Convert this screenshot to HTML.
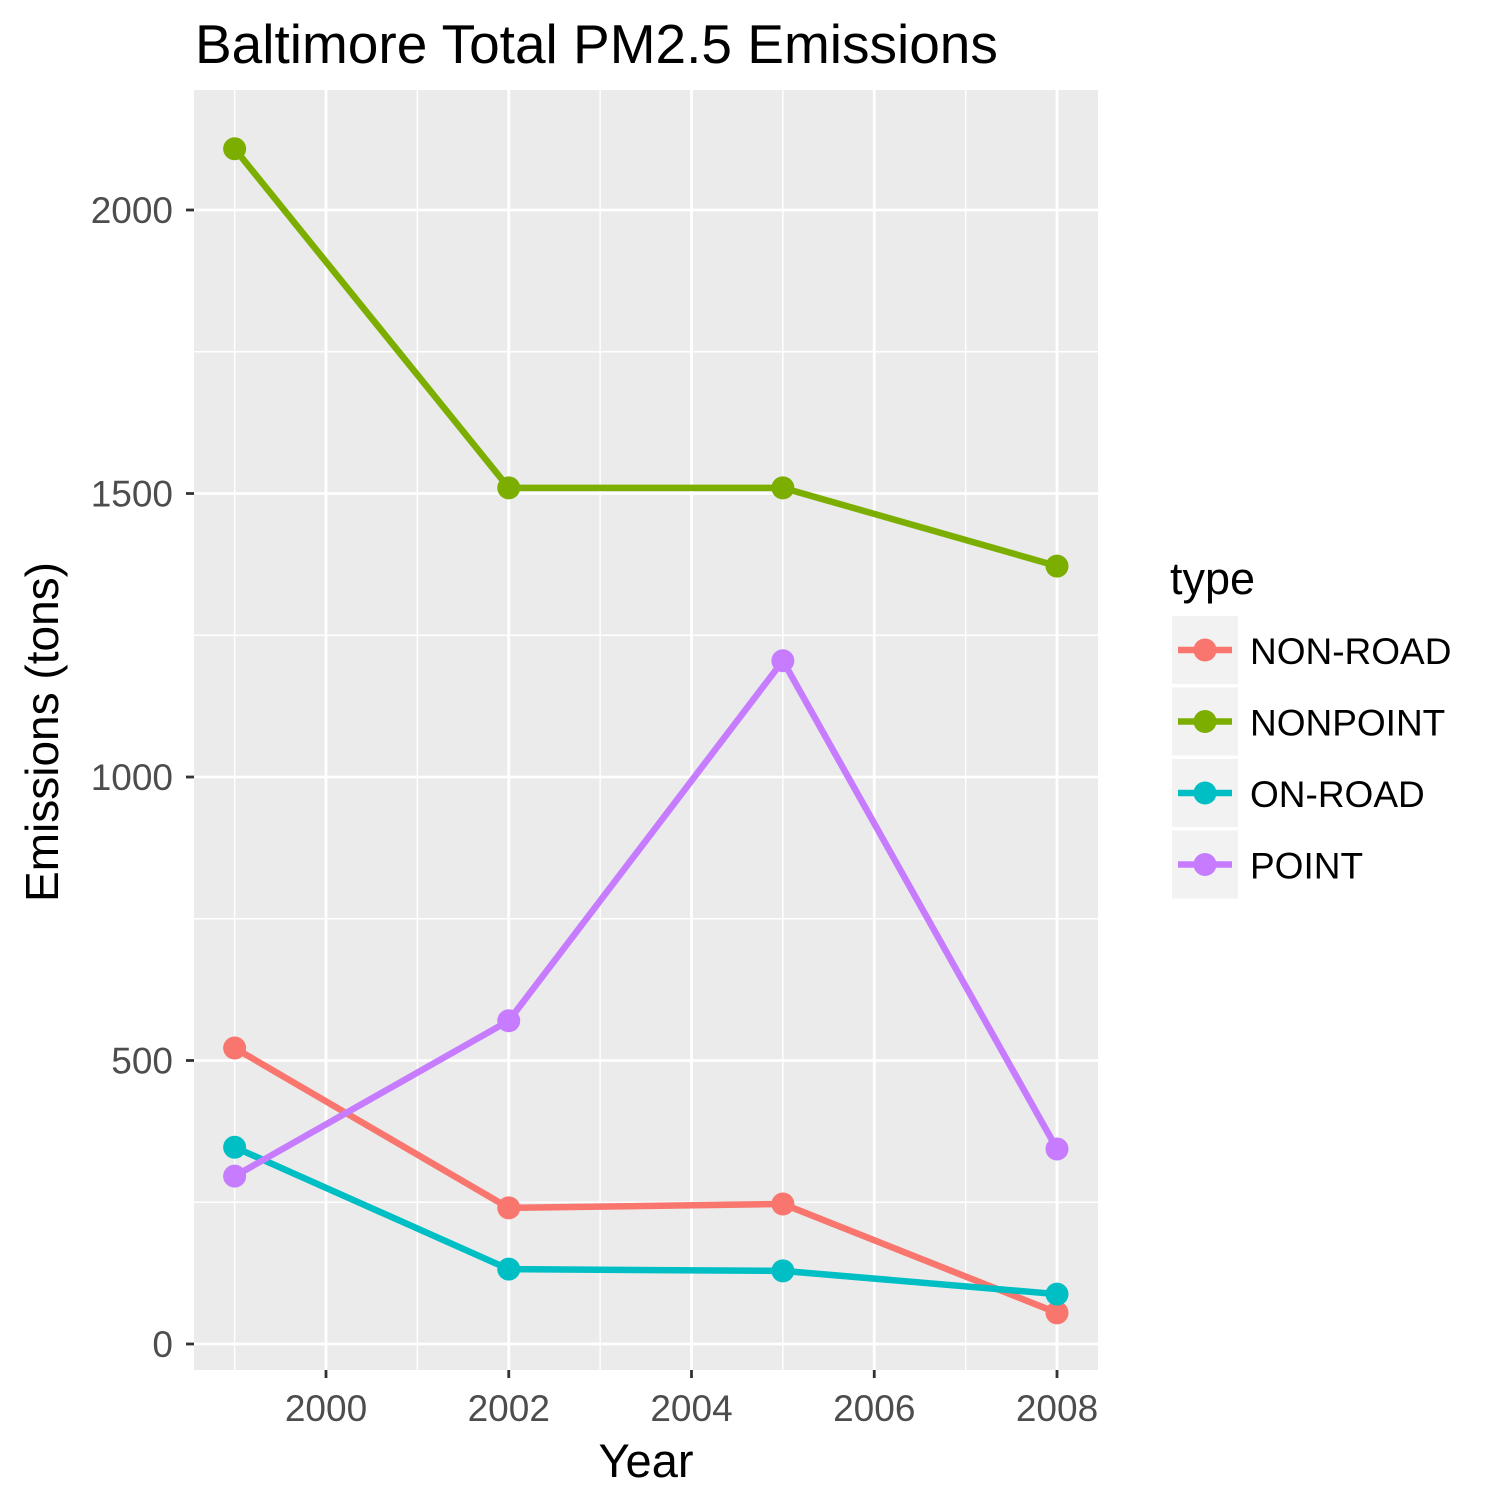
<!DOCTYPE html>
<html><head><meta charset="utf-8"><style>
html,body{margin:0;padding:0;background:#fff;}
svg text{font-family:"Liberation Sans",Arial,sans-serif;}
</style></head><body>
<svg id="chart" width="1500" height="1500" viewBox="0 0 1500 1500" xmlns="http://www.w3.org/2000/svg">
<rect x="0" y="0" width="1500" height="1500" fill="#fff"/>
<text x="195" y="63" font-size="55" fill="#000">Baltimore Total PM2.5 Emissions</text>
<rect x="194" y="90" width="904" height="1280" fill="#ebebeb"/>
<g id="grid"></g>
<g id="series"></g>
<g id="axes"></g>
<text x="646" y="1477" font-size="47" text-anchor="middle" fill="#000">Year</text>
<text transform="translate(58,732) rotate(-90)" font-size="46" text-anchor="middle" fill="#000">Emissions (tons)</text>
<text x="1170" y="594" font-size="45" fill="#000">type</text>
<g id="legend"></g>
</svg>
<script>
const years = [1999, 2002, 2005, 2008];
const seriesNames = ["NON-ROAD", "NONPOINT", "ON-ROAD", "POINT"];
const nonRoad = [522, 240, 247, 55];
const nonPoint = [2108, 1510, 1510, 1372];
const onRoad = [347, 132, 129, 88];
const pointVals = [296, 570, 1205, 344];
const colors = ["#F8766D", "#7CAE00", "#00BFC4", "#C77CFF"];
const yTicks = [0, 500, 1000, 1500, 2000];
const yMinor = [250, 750, 1250, 1750];
const xTicks = [2000, 2002, 2004, 2006, 2008];
const xMinor = [1999, 2001, 2003, 2005, 2007];

const NS = "http://www.w3.org/2000/svg";
const xs = v => 326 + (v - 2000) * 91.375;
const ys = v => 1344 - v * 0.567;
function mk(tag, attrs, parent) {
  const e = document.createElementNS(NS, tag);
  for (const k in attrs) e.setAttribute(k, attrs[k]);
  parent.appendChild(e);
  return e;
}
const grid = document.getElementById('grid');
const axes = document.getElementById('axes');
yMinor.forEach(v => {
  const l = mk('line', {x1:194, x2:1098, y1:ys(v), y2:ys(v), stroke:'#fff', 'stroke-width':1.4}, grid);
  
  
});
xMinor.forEach(v => {
  const l = mk('line', {x1:xs(v), x2:xs(v), y1:90, y2:1370, stroke:'#fff', 'stroke-width':1.4}, grid);
  
  
});
yTicks.forEach(v => {
  const l = mk('line', {x1:194, x2:1098, y1:ys(v), y2:ys(v), stroke:'#fff', 'stroke-width':2.8}, grid);
  
  
  const t = mk('line', {x1:186, x2:194, y1:ys(v), y2:ys(v), stroke:'#333', 'stroke-width':2.8}, axes);
  
  
  const tx = mk('text', {x:173, y:ys(v)+13, 'font-size':37, 'text-anchor':'end', fill:'#4d4d4d'}, axes);
  tx.textContent = v;
  
  
});
xTicks.forEach(v => {
  const l = mk('line', {x1:xs(v), x2:xs(v), y1:90, y2:1370, stroke:'#fff', 'stroke-width':2.8}, grid);
  
  
  const t = mk('line', {x1:xs(v), x2:xs(v), y1:1370, y2:1378, stroke:'#333', 'stroke-width':2.8}, axes);
  
  
  const tx = mk('text', {x:xs(v), y:1421, 'font-size':37, 'text-anchor':'middle', fill:'#4d4d4d'}, axes);
  tx.textContent = v;
  
  
});
const seriesG = document.getElementById('series');
const allVals = [nonRoad, nonPoint, onRoad, pointVals];
allVals.forEach((vals, i) => {
  const g = mk('g', {}, seriesG);
  
  
  const p = mk('polyline', {points: vals.map((v, j) => xs(years[j]) + ',' + ys(v)).join(' '), fill:'none', stroke:colors[i], 'stroke-width':6.5, 'stroke-linejoin':'round'}, g);
  
  
  vals.forEach((v, j) => {
    const c = mk('circle', {cx:xs(years[j]), cy:ys(v), r:11.5, fill:colors[i]}, g);
    
    
  });
});
const leg = document.getElementById('legend');
seriesNames.forEach((n, i) => {
  const y0 = 616 + i * 71.5;
  const g = mk('g', {}, leg);
  
  
  const r = mk('rect', {x:1172, y:y0, width:66, height:68, fill:'#f2f2f2'}, g);
  
  
  const l = mk('line', {x1:1178, x2:1232, y1:y0+34, y2:y0+34, stroke:colors[i], 'stroke-width':6.5}, g);
  
  
  const c = mk('circle', {cx:1205, cy:y0+34, r:11.5, fill:colors[i]}, g);
  
  
  const t = mk('text', {x:1250, y:y0+48, 'font-size':37, fill:'#000'}, g);
  t.textContent = n;
  
  
});
</script>
</body></html>
